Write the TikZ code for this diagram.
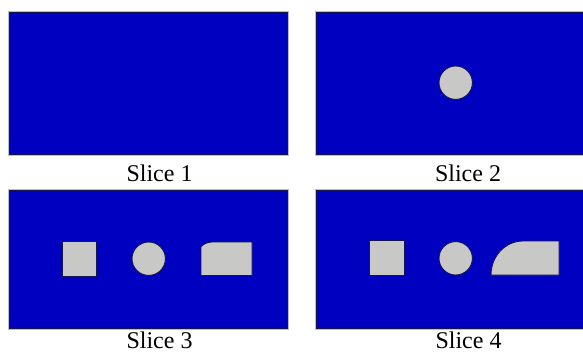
\documentclass[tikz,border=0pt]{standalone}
\usepackage{fontspec}
\setmainfont{Liberation Serif}
\definecolor{slblue}{RGB}{0,0,192}
\definecolor{slgray}{RGB}{200,200,198}
\definecolor{slframe}{RGB}{190,190,192}
\definecolor{slline}{RGB}{20,20,80}
\begin{document}
\begin{tikzpicture}[x=1pt,y=-1pt,
  frame/.style={fill=slframe},
  plate/.style={fill=slblue,draw=slline,line width=1pt},
  part/.style={fill=slgray,draw=slline,line width=0.9pt,line join=round},
  label/.style={anchor=base,font=\fontsize{24}{28}\selectfont,inner sep=0pt}]
\useasboundingbox (0,0) rectangle (583,354);
% panel frames
\fill[frame] (8,11) rectangle (289,156);
\fill[frame] (315,11) rectangle (590,156);
\fill[frame] (8,188.5) rectangle (289,330);
\fill[frame] (315,188.5) rectangle (590,330);
\draw[plate] (9.5,12.5) rectangle (287,154.5);
\draw[plate] (316.5,12.5) rectangle (590,154.5);
\draw[plate] (9.5,190) rectangle (287,328.5);
\draw[plate] (316.5,190) rectangle (590,328.5);
% slice 2
\draw[part] (455.7,82.7) circle (16.7);
% slice 3
\draw[part] (62,241.7) rectangle (96.7,276);
\draw[part] (148.7,258.7) circle (16.7);
\draw[part] (201,275.5) -- (201,246.7) .. controls (204,243.6) and (207.5,242.2) .. (212,242) -- (252,242) -- (252,275.5) -- cycle;
% slice 4
\draw[part] (369,240.7) rectangle (404,275.3);
\draw[part] (455.7,258.3) circle (16.7);
\draw[part] (491,275) .. controls (491,256.2) and (505.3,241) .. (523,241) -- (559,241) -- (559,275) -- cycle;
% labels
\node[label] (l1) at (159.5,181) {Slice 1};
\node[label] (l2) at (468,181) {Slice 2};
\node[label] (l3) at (159.5,348.5) {Slice 3};
\node[label] (l4) at (468.5,348.5) {Slice 4};
\end{tikzpicture}
\end{document}
